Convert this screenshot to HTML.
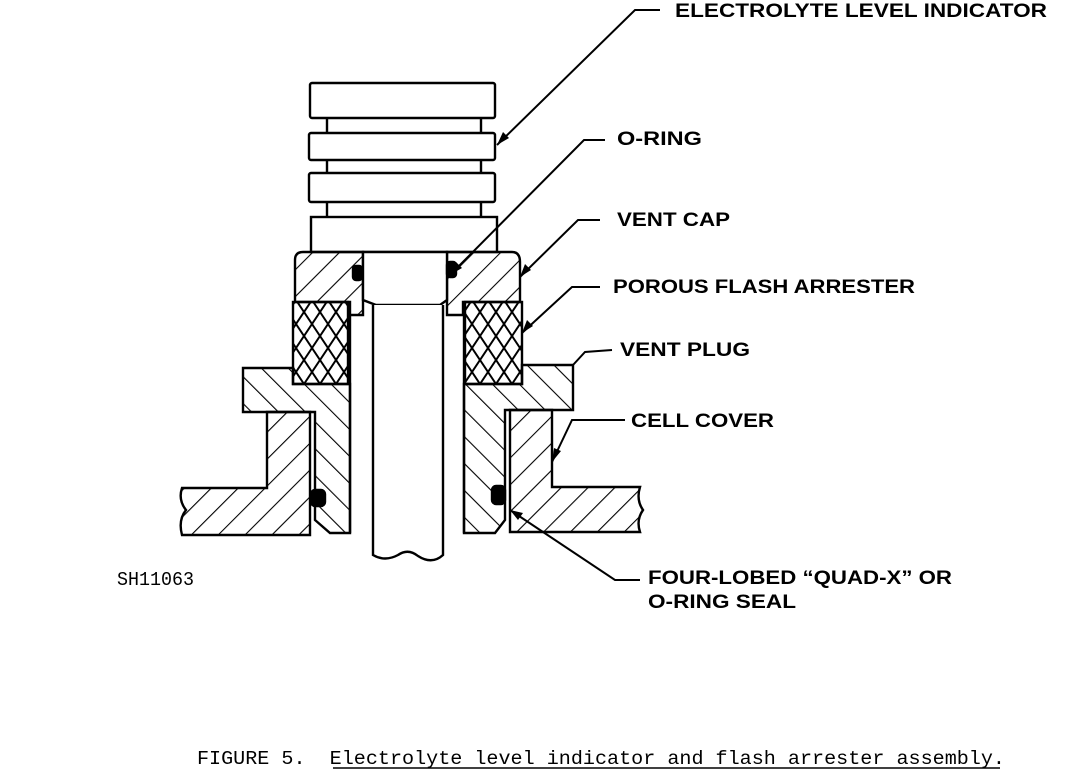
<!DOCTYPE html>
<html><head><meta charset="utf-8"><style>
html,body{margin:0;padding:0;background:#fff;}
svg{display:block;}
.l{font-family:"Liberation Sans",sans-serif;font-weight:bold;font-size:19px;fill:#000;}
.m{font-family:"Liberation Mono",monospace;font-size:19px;fill:#000;}
</style></head><body>
<svg width="1071" height="770" viewBox="0 0 1071 770" xmlns="http://www.w3.org/2000/svg">
<defs>
<pattern id="h" patternUnits="userSpaceOnUse" width="19" height="19" patternTransform="rotate(45)">
<line x1="0" y1="0" x2="0" y2="19" stroke="#000" stroke-width="2.2"/></pattern>
<pattern id="h2" patternUnits="userSpaceOnUse" width="19" height="19" patternTransform="rotate(-45)">
<line x1="0" y1="0" x2="0" y2="19" stroke="#000" stroke-width="2.2"/></pattern>
<pattern id="x" patternUnits="userSpaceOnUse" width="16" height="24">
<path d="M0 0 L16 24 M16 0 L0 24" stroke="#000" stroke-width="2" fill="none"/></pattern>
</defs>
<g stroke="#000" stroke-width="2.4" fill="none">
<rect x="310" y="83" width="185" height="35" rx="2" fill="#fff"/>
<line x1="327" y1="118" x2="327" y2="217"/><line x1="481" y1="118" x2="481" y2="217"/>
<rect x="309" y="133" width="186" height="27" rx="2" fill="#fff"/>
<rect x="309" y="173" width="186" height="29" rx="2" fill="#fff"/>
<rect x="311" y="217" width="186" height="35" fill="#fff"/>
<path d="M295 260 Q295 252 303 252 L363 252 L363 315 L350 315 L350 302 L295 302 Z" fill="url(#h)"/>
<path d="M447 252 L512 252 Q520 252 520 262 L520 302 L463 302 L463 315 L447 315 Z" fill="url(#h)"/>
<path d="M363 252 L447 252 L447 300 L440 305 L376 305 L363 300 Z" fill="#fff"/>
<rect x="293" y="302" width="55" height="82" fill="url(#x)"/>
<rect x="465" y="302" width="57" height="82" fill="url(#x)"/>
<path d="M243 368 L293 368 L293 384 L350 384 L350 533 L330 533 L315 520 L315 412 L243 412 Z" fill="url(#h2)"/>
<path d="M464 384 L522 384 L522 365 L573 365 L573 410 L505 410 L505 520 L495 533 L464 533 Z" fill="url(#h2)"/>
<line x1="350" y1="315" x2="350" y2="533"/><line x1="464" y1="315" x2="464" y2="533"/>
<path d="M373 305 L373 555 Q385 562 398 555 Q408 548 418 556 Q432 565 443 555 L443 305" fill="#fff"/>
<path d="M182 488 L267 488 L267 412 L310 412 L310 535 L182 535 Q178 520 186 510 Q178 500 182 488 Z" fill="url(#h)"/>
<path d="M510 410 L552 410 L552 487 L640 487 Q636 500 643 510 Q636 520 640 532 L510 532 Z" fill="url(#h)"/>
<rect x="353" y="266" width="9" height="14" rx="3" fill="#000"/>
<rect x="447" y="262" width="9" height="15" rx="3" fill="#000"/>
<rect x="311" y="490" width="14" height="16" rx="4" fill="#000"/>
<rect x="492" y="486" width="13" height="18" rx="4" fill="#000"/>
</g>
<g stroke="#000" stroke-width="2" fill="none">
<polyline points="660,10 635,10 497,145"/>
<polyline points="605,140 584,140 450,275"/>
<polyline points="600,220 578,220 520,277"/>
<polyline points="600,287 572,287 522,333"/>
<polyline points="612,350 585,352 573,365"/>
<polyline points="625,420 572,420 552,462"/>
<polyline points="640,580 615,580 510,510"/>
<line x1="333" y1="768" x2="1000" y2="768" stroke-width="1.5"/>
</g>
<g fill="#000">
<path d="M497 145 L503 132 L509 138 Z"/>
<path d="M450 275 L456 262 L462 268 Z"/>
<path d="M520 277 L525 264 L531 270 Z"/>
<path d="M522 333 L527 320 L533 326 Z"/>
<path d="M552 462 L554 448 L561 451 Z"/>
<path d="M510 510 L523 513 L518 520 Z"/>
</g>
<text class="l" x="675" y="17" textLength="372" lengthAdjust="spacingAndGlyphs">ELECTROLYTE LEVEL INDICATOR</text>
<text class="l" x="617" y="145" textLength="85" lengthAdjust="spacingAndGlyphs">O-RING</text>
<text class="l" x="617" y="226" textLength="113" lengthAdjust="spacingAndGlyphs">VENT CAP</text>
<text class="l" x="613" y="293" textLength="302" lengthAdjust="spacingAndGlyphs">POROUS FLASH ARRESTER</text>
<text class="l" x="620" y="356" textLength="130" lengthAdjust="spacingAndGlyphs">VENT PLUG</text>
<text class="l" x="631" y="427" textLength="143" lengthAdjust="spacingAndGlyphs">CELL COVER</text>
<text class="l" x="648" y="584" textLength="304" lengthAdjust="spacingAndGlyphs">FOUR-LOBED “QUAD-X” OR</text>
<text class="l" x="648" y="608" textLength="148" lengthAdjust="spacingAndGlyphs">O-RING SEAL</text>
<text class="m" x="117" y="585" font-size="15" textLength="77" lengthAdjust="spacingAndGlyphs">SH11063</text>
<text class="m" x="197" y="764" textLength="808" lengthAdjust="spacingAndGlyphs" xml:space="preserve">FIGURE 5.  Electrolyte level indicator and flash arrester assembly.</text>
</svg>
</body></html>
